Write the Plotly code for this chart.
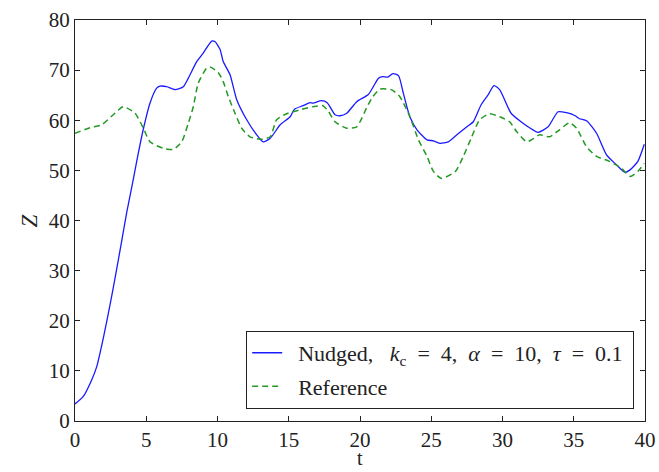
import plotly.graph_objects as go

# Nudged series (t, Z)
t_nudged = [0, 0.58, 1.17, 1.52, 1.99, 2.46, 2.81, 3.27, 3.63, 3.98, 4.21, 4.44, 4.8, 5.26, 5.73, 5.96,
            6.43, 7.02, 7.6, 7.95, 8.54, 9.0, 9.59, 9.82, 10.18, 10.4, 10.88, 11.35, 12.05, 12.75,
            13.2, 13.7, 14.4, 15.1, 15.4, 16.0, 16.5, 16.7, 17.3, 17.7, 18.25, 18.6, 19.07, 19.77,
            20.6, 21.3, 21.6, 21.95, 22.3, 22.7, 23.04, 23.5, 24.0, 24.7, 25.15, 25.6, 26.2, 26.8,
            27.5, 27.95, 28.5, 29.0, 29.4, 29.8, 30.6, 31.3, 31.9, 32.5, 33.2, 33.9, 34.5, 35.1,
            35.4, 35.9, 36.6, 37.3, 38.0, 38.6, 38.95, 39.5, 39.95]
z_nudged = [3.4, 4.9, 8.2, 10.8, 16.6, 23.2, 28.5, 35.8, 41.6, 46.6, 50.0, 53.4, 58.3, 63.4, 66.4, 66.8,
            66.7, 66.1, 66.7, 68.4, 71.7, 73.4, 75.8, 75.7, 74.1, 71.7, 69.1, 64.1, 60.1, 57.1,
            55.7, 56.4, 59.1, 60.7, 62.2, 62.9, 63.5, 63.4, 63.9, 63.5, 61.1, 60.9, 61.4, 63.7,
            65.2, 68.4, 68.7, 68.6, 69.3, 68.9, 65.4, 60.7, 58.1, 56.1, 55.9, 55.4, 55.7, 57.1,
            58.7, 59.7, 63.1, 65.1, 66.9, 66.1, 61.4, 59.7, 58.5, 57.6, 58.7, 61.7, 61.5, 60.9,
            60.3, 59.9, 57.4, 53.1, 51.1, 49.6, 50.1, 51.8, 55.2]

# Reference series (t, Z)
t_ref = [0, 1.05, 1.87, 2.69, 3.39, 4.21, 4.8, 5.26, 6.2, 6.9, 7.49, 7.95, 8.3, 8.65, 9.24, 9.5,
         10.06, 10.4, 10.76, 11.23, 11.7, 12.28, 13.1, 13.7, 14.15, 14.85, 15.8, 16.7, 17.4, 17.8,
         18.25, 19.07, 19.77, 20.5, 20.9, 21.4, 22.2, 22.8, 23.5, 24.1, 24.7, 25.15, 25.7, 26.7,
         27.25, 27.8, 28.4, 29.1, 29.8, 30.5, 31.0, 31.7, 32.2, 32.6, 33.3, 34.0, 34.7, 35.2,
         35.9, 36.6, 37.5, 38.35, 38.95, 39.5, 39.95]
z_ref = [57.4, 58.5, 59.1, 61.1, 62.7, 61.4, 58.4, 55.7, 54.4, 54.2, 55.7, 59.4, 62.7, 67.4, 70.4, 70.6,
         69.5, 67.7, 64.7, 61.4, 58.4, 56.7, 56.2, 56.7, 60.1, 61.3, 62.1, 62.7, 62.9, 61.7,
         59.7, 58.4, 58.7, 62.7, 64.7, 66.2, 66.1, 64.7, 60.7, 56.1, 52.8, 49.8, 48.4, 49.8,
         52.8, 56.4, 60.1, 61.3, 60.7, 59.7, 57.7, 55.7, 56.4, 57.1, 56.7, 58.1, 59.5, 58.4,
         54.7, 52.8, 51.8, 50.4, 48.8, 49.8, 51.4]

x_ticks = [0, 5, 10, 15, 20, 25, 30, 35, 40]
y_ticks = [0, 10, 20, 30, 40, 50, 60, 70, 80]
x_title = "t"
y_title = "<i>Z</i>"

font_family = "Times New Roman, Liberation Serif, Tinos, serif"
sp = "\u00a0"

fig = go.Figure()
fig.add_trace(go.Scatter(
    x=t_nudged, y=z_nudged, mode="lines", legendgroup="a",
    line=dict(color="#1a1aff", width=1.3, shape="spline", smoothing=0.6),
    name=(f"{sp}{sp}Nudged,{sp}{sp}{sp}<i>k</i><sub>c</sub>{sp}{sp}={sp}{sp}4,{sp}{sp}<i>α</i>{sp}{sp}={sp}{sp}10,"
          f"{sp}{sp}<i>τ</i>{sp}{sp}={sp}{sp}0.1{sp}"),
))
fig.add_trace(go.Scatter(
    x=t_ref, y=z_ref, mode="lines", legendgroup="b",
    line=dict(color="#229922", width=1.5, dash="6px,4px", shape="spline", smoothing=0.6),
    name=f"{sp}{sp}Reference",
))

axis_common = dict(
    showgrid=False, zeroline=False, showline=True, linecolor="#222", linewidth=1,
    mirror="ticks", ticks="inside", ticklen=5, tickcolor="#222", tickwidth=1,
    tickfont=dict(family=font_family, size=21, color="#222"), automargin=False,
)
fig.update_xaxes(range=[0, 40], tickvals=x_ticks, ticktext=[str(v) for v in x_ticks], **axis_common)
fig.update_yaxes(range=[0, 80], tickvals=y_ticks, ticktext=[str(v) for v in y_ticks], **axis_common)

fig.add_annotation(text=x_title, xref="paper", yref="paper", x=0.5, y=-0.122,
                   xanchor="center", yanchor="bottom", showarrow=False, borderpad=0,
                   font=dict(family=font_family, size=20, color="#222"))
fig.add_annotation(text=y_title, xref="paper", yref="paper", x=-0.079, y=0.5,
                   xanchor="center", yanchor="middle", showarrow=False, textangle=-90,
                   font=dict(family=font_family, size=23, color="#222"))

fig.update_layout(
    width=659, height=472,
    margin=dict(l=75, r=14, t=20, b=51),
    paper_bgcolor="white", plot_bgcolor="white",
    font=dict(family=font_family, color="#222"),
    legend=dict(
        x=0.981, xanchor="right", y=0.03, yanchor="bottom",
        bordercolor="#222", borderwidth=1, bgcolor="white",
        font=dict(family=font_family, size=22, color="#222"),
        tracegroupgap=2,
    ),
)

fig.write_html("out.html")
